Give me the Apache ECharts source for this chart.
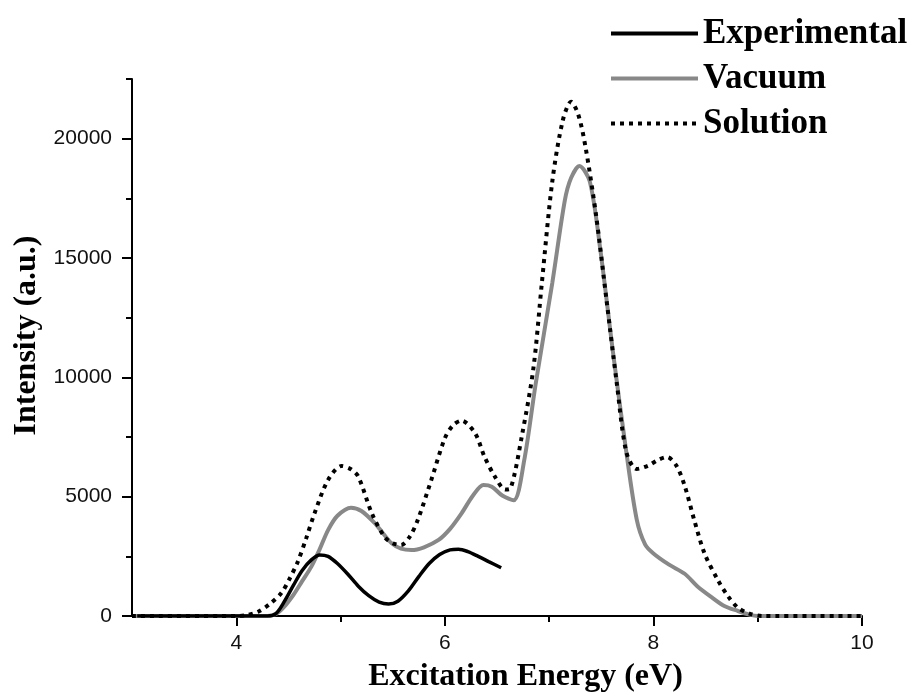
<!DOCTYPE html>
<html>
<head>
<meta charset="utf-8">
<script src="https://cdn.jsdelivr.net/npm/echarts@6/dist/echarts.min.js"></script>
<style>
  html, body { margin: 0; padding: 0; background: #fff; }
  #chart { width: 914px; height: 693px; }
</style>
</head>
<body>
<div id="chart"></div>
<script>
// excitation energy (eV) and intensity (a.u.)
var expX = [3.05, 4.0, 4.3, 4.38, 4.46, 4.55, 4.63, 4.72, 4.80, 4.88, 4.97, 5.07, 5.17, 5.27, 5.37, 5.46, 5.55, 5.65, 5.75, 5.85, 5.95, 6.05, 6.13, 6.22, 6.32, 6.42, 6.54];
var expY = [0, 0, 0, 100, 600, 1300, 1900, 2350, 2560, 2500, 2200, 1750, 1250, 850, 580, 500, 620, 1050, 1650, 2200, 2580, 2770, 2800, 2700, 2500, 2280, 2020];

var vacX = [3.0, 4.0, 4.3, 4.38, 4.46, 4.55, 4.63, 4.72, 4.80, 4.88, 4.97, 5.10, 5.20, 5.33, 5.41, 5.49, 5.58, 5.68, 5.80, 5.94, 6.05, 6.16, 6.27, 6.37, 6.45, 6.55, 6.66, 6.76, 6.87, 7.03, 7.15, 7.21, 7.29, 7.39, 7.49, 7.61, 7.74, 7.84, 7.92, 8.00, 8.15, 8.30, 8.42, 8.56, 8.68, 8.81, 8.92, 9.0, 10.0];
var vacY = [0, 0, 0, 80, 390, 900, 1450, 2070, 2800, 3600, 4200, 4540, 4400, 3880, 3450, 3045, 2820, 2765, 2880, 3185, 3650, 4300, 5050, 5490, 5420, 5050, 4850, 6500, 9700, 13950, 17400, 18350, 18850, 18200, 15380, 11125, 6870, 4040, 3000, 2620, 2150, 1770, 1250, 780, 420, 210, 60, 0, 0];

var solX = [3.0, 4.0, 4.1, 4.21, 4.32, 4.43, 4.51, 4.59, 4.67, 4.75, 4.88, 5.01, 5.10, 5.17, 5.30, 5.42, 5.50, 5.58, 5.66, 5.74, 5.87, 6.00, 6.08, 6.16, 6.29, 6.38, 6.48, 6.58, 6.63, 6.74, 6.85, 6.93, 7.03, 7.13, 7.21, 7.28, 7.35, 7.45, 7.55, 7.65, 7.74, 7.84, 7.95, 8.05, 8.13, 8.22, 8.30, 8.39, 8.49, 8.62, 8.72, 8.81, 8.92, 9.05, 10.0];
var solY = [0, 0, 40, 180, 500, 950, 1550, 2275, 3250, 4300, 5700, 6285, 6150, 5840, 4300, 3320, 3050, 2975, 3300, 4020, 5700, 7450, 8000, 8185, 7655, 6675, 5840, 5300, 5350, 7580, 10410, 13950, 18200, 20750, 21550, 21000, 19620, 16790, 13240, 9700, 6870, 6160, 6300, 6550, 6660, 6300, 5450, 4040, 2620, 1490, 800, 350, 100, 0, 0];

var xMajor = [4, 6, 8, 10];
var xMinor = [5, 7, 9];
var yMajor = [0, 5000, 10000, 15000, 20000];
var yMinor = [2500, 7500, 12500, 17500, 22500];

function pairs(xs, ys) {
  return xs.map(function (x, i) { return [x, ys[i]]; });
}

var titleFont = { fontFamily: 'Liberation Serif', fontWeight: 'bold', fontSize: 32, color: '#000' };
var tickFont = { fontFamily: 'Liberation Sans', fontSize: 21, color: '#111' };

var chart = echarts.init(document.getElementById('chart'));

chart.setOption({
  animation: false,
  backgroundColor: '#fff',
  grid: { left: 132, right: 52, top: 79, bottom: 77, containLabel: false, outerBoundsMode: 'none' },
  legend: {
    orient: 'vertical',
    left: 604,
    top: 11,
    itemWidth: 87,
    itemHeight: 14,
    itemGap: 10,
    itemStyle: { opacity: 0 },
    lineStyle: { width: 4 },
    textStyle: { fontFamily: 'Liberation Serif', fontWeight: 'bold', fontSize: 35, color: '#000' },
    data: ['Experimental', 'Vacuum', 'Solution']
  },
  xAxis: [{
    type: 'value',
    min: 3,
    max: 10,
    name: 'Excitation Energy (eV)',
    nameLocation: 'middle',
    nameGap: 45,
    nameTextStyle: Object.assign({ padding: [0, 0, 0, 57] }, titleFont),
    axisLine: { onZero: false, lineStyle: { color: '#000', width: 2 } },
    axisTick: { customValues: xMajor, length: 10, lineStyle: { color: '#000', width: 2 } },
    axisLabel: Object.assign({ customValues: xMajor, margin: 17, formatter: function (v) { return String(v); } }, tickFont),
    splitLine: { show: false }
  }, {
    type: 'value',
    min: 3,
    max: 10,
    position: 'bottom',
    axisLine: { show: false },
    axisTick: { customValues: xMinor, length: 6, lineStyle: { color: '#000', width: 2 } },
    axisLabel: { show: false },
    splitLine: { show: false }
  }],
  yAxis: [{
    type: 'value',
    min: 0,
    max: 22500,
    name: 'Intensity (a.u.)',
    nameLocation: 'middle',
    nameGap: 88,
    nameTextStyle: Object.assign({ padding: [0, 0, 0, 24] }, titleFont),
    axisLine: { show: true, onZero: false, lineStyle: { color: '#000', width: 2 } },
    axisTick: { show: true, customValues: yMajor, length: 10, lineStyle: { color: '#000', width: 2 } },
    axisLabel: Object.assign({ customValues: yMajor, margin: 20, formatter: function (v) { return String(v); } }, tickFont),
    splitLine: { show: false }
  }, {
    type: 'value',
    min: 0,
    max: 22500,
    position: 'left',
    axisLine: { show: false },
    axisTick: { show: true, customValues: yMinor, length: 6, lineStyle: { color: '#000', width: 2 } },
    axisLabel: { show: false },
    splitLine: { show: false }
  }],
  series: [{
    name: 'Experimental',
    type: 'line',
    smooth: 0.3,
    symbol: 'none',
    lineStyle: { color: '#000', width: 3.5 },
    itemStyle: { color: '#000' },
    data: pairs(expX, expY),
    z: 4
  }, {
    name: 'Vacuum',
    type: 'line',
    smooth: 0.3,
    symbol: 'none',
    lineStyle: { color: '#888', width: 4 },
    itemStyle: { color: '#888' },
    data: pairs(vacX, vacY),
    z: 3
  }, {
    name: 'Solution',
    type: 'line',
    smooth: 0.3,
    symbol: 'none',
    lineStyle: { color: '#000', width: 4, type: [4, 5] },
    itemStyle: { color: '#000' },
    data: pairs(solX, solY),
    z: 5
  }]
});
</script>
</body>
</html>
